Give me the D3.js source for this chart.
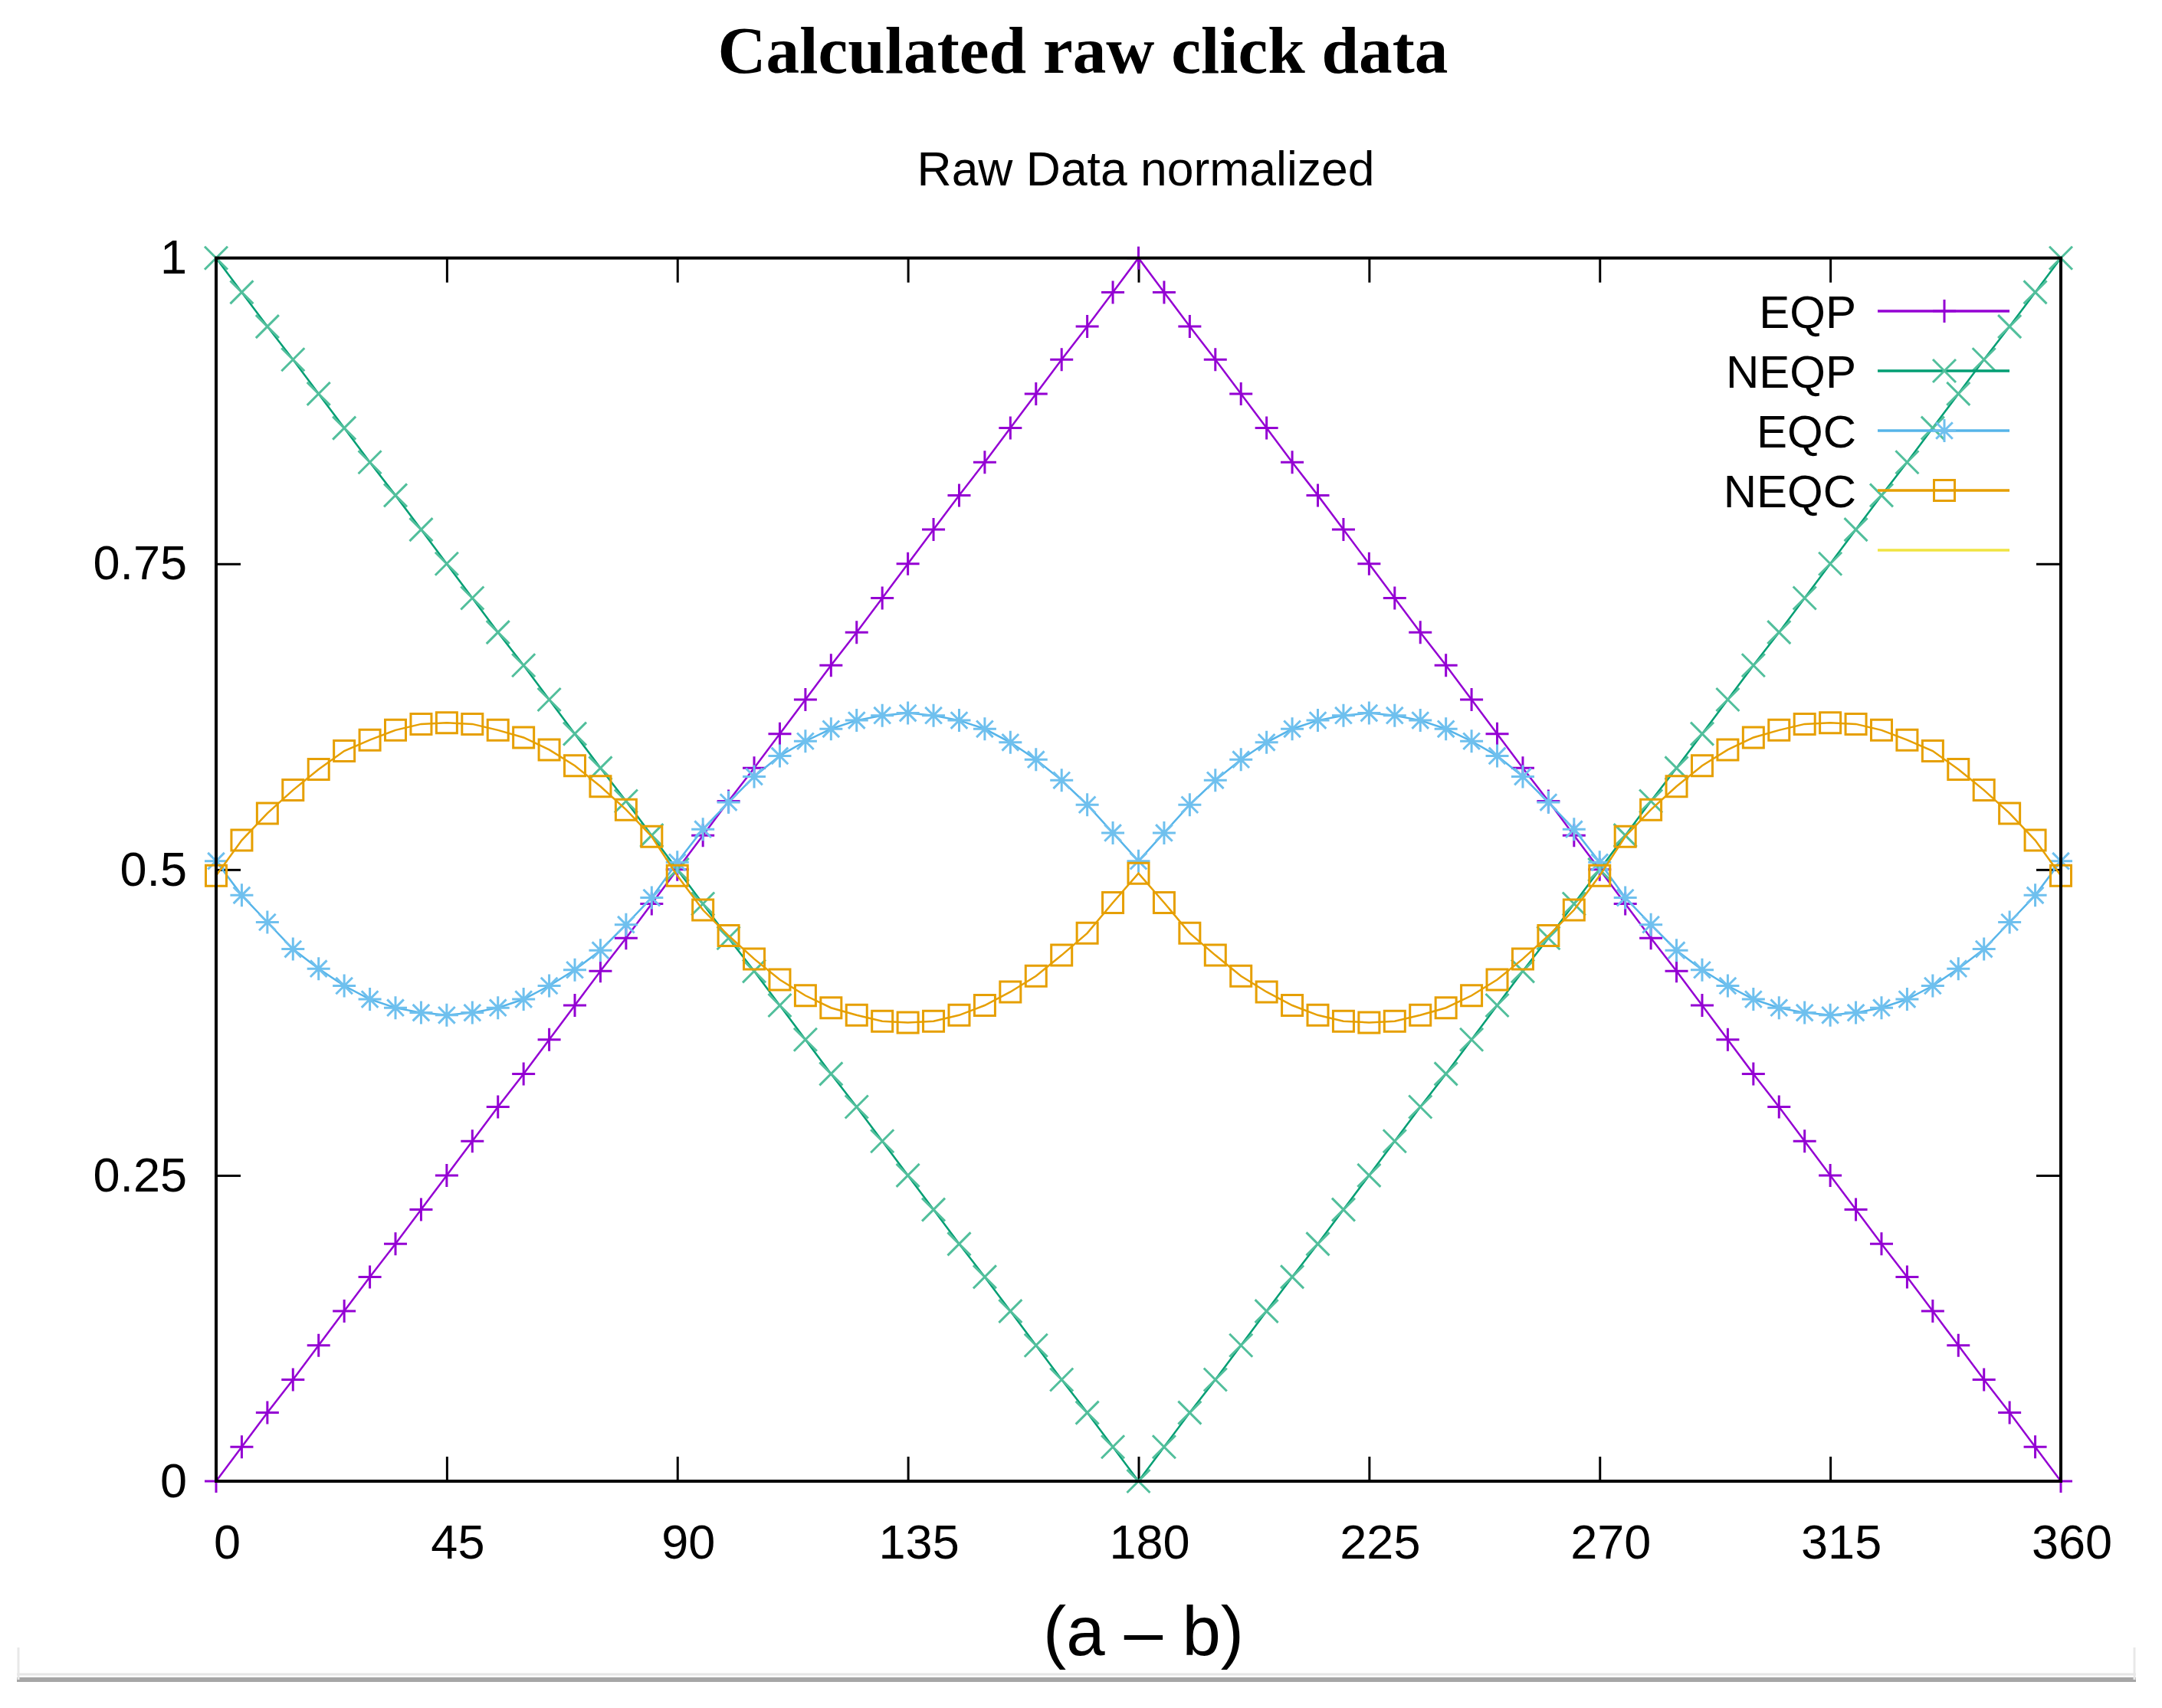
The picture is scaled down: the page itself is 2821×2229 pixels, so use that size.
<!DOCTYPE html>
<html>
<head>
<meta charset="utf-8">
<script src="https://cdn.jsdelivr.net/npm/d3@7"></script>
<style>
  html, body { margin: 0; padding: 0; background: #ffffff; }
  svg { display: block; }
</style>
</head>
<body>
<script>
// ---------------- data ----------------
const angles = [0,5,10,15,20,25,30,35,40,45,50,55,60,65,70,75,80,85,90,95,100,105,110,115,120,125,130,135,140,145,150,155,160,165,170,175,180,
  185,190,195,200,205,210,215,220,225,230,235,240,245,250,255,260,265,270,275,280,285,290,295,300,305,310,315,320,325,330,335,340,345,350,355,360];

const eqp = [0.000,0.028,0.056,0.083,0.111,0.139,0.167,0.194,0.222,0.250,0.278,0.306,0.333,0.361,0.389,0.417,0.444,0.472,0.500,0.528,0.556,0.583,0.611,0.639,0.667,0.694,0.722,0.750,0.778,0.806,0.833,0.861,0.889,0.917,0.944,0.972,1.000,
  0.972,0.944,0.917,0.889,0.861,0.833,0.806,0.778,0.750,0.722,0.694,0.667,0.639,0.611,0.583,0.556,0.528,0.500,0.472,0.444,0.417,0.389,0.361,0.333,0.306,0.278,0.250,0.222,0.194,0.167,0.139,0.111,0.083,0.056,0.028,0.000];

const neqp = [1.000,0.972,0.944,0.917,0.889,0.861,0.833,0.806,0.778,0.750,0.722,0.694,0.667,0.639,0.611,0.583,0.556,0.528,0.500,0.472,0.444,0.417,0.389,0.361,0.333,0.306,0.278,0.250,0.222,0.194,0.167,0.139,0.111,0.083,0.056,0.028,0.000,
  0.028,0.056,0.083,0.111,0.139,0.167,0.194,0.222,0.250,0.278,0.306,0.333,0.361,0.389,0.417,0.444,0.472,0.500,0.528,0.556,0.583,0.611,0.639,0.667,0.694,0.722,0.750,0.778,0.806,0.833,0.861,0.889,0.917,0.944,0.972,1.000];

const eqc = [0.507,0.479,0.457,0.435,0.419,0.405,0.394,0.387,0.383,0.381,0.383,0.387,0.394,0.405,0.418,0.434,0.455,0.477,0.506,0.533,0.555,0.576,0.593,0.605,0.615,0.622,0.626,0.628,0.626,0.622,0.615,0.604,0.590,0.573,0.553,0.530,0.507,
  0.530,0.553,0.573,0.590,0.604,0.615,0.622,0.626,0.628,0.626,0.622,0.615,0.605,0.593,0.576,0.555,0.533,0.506,0.477,0.455,0.434,0.418,0.405,0.394,0.387,0.383,0.381,0.383,0.387,0.394,0.405,0.419,0.435,0.457,0.479,0.507];

const neqc = [0.495,0.524,0.546,0.565,0.582,0.597,0.606,0.614,0.619,0.620,0.619,0.614,0.608,0.598,0.585,0.568,0.549,0.527,0.495,0.467,0.446,0.427,0.410,0.397,0.387,0.381,0.376,0.375,0.376,0.381,0.389,0.400,0.413,0.430,0.448,0.473,0.497,
  0.473,0.448,0.430,0.413,0.400,0.389,0.381,0.376,0.375,0.376,0.381,0.387,0.397,0.410,0.427,0.446,0.467,0.495,0.527,0.549,0.568,0.585,0.598,0.608,0.614,0.619,0.620,0.619,0.614,0.606,0.597,0.582,0.565,0.546,0.524,0.495];

const fifth = []; // legend-only entry (yellow, no title)

const seriesNames = ["EQP", "NEQP", "EQC", "NEQC", ""];
const seriesColors = ["#9400d3", "#009e73", "#56b4e9", "#e69f00", "#f0e442"];
const markerColors = ["#9400d3", "#52bf9c", "#6fc0ee", "#e69f00", "#f0e442"];
const seriesMarkers = ["plus", "times", "star", "square", "none"];
const seriesValues = [eqp, neqp, eqc, neqc, fifth];

const xTicks = [0, 45, 90, 135, 180, 225, 270, 315, 360];
const yTicks = [0, 0.25, 0.5, 0.75, 1];
const yTickLabels = ["0", "0.25", "0.5", "0.75", "1"];

const titleText = "Calculated raw click data";
const subtitleText = "Raw Data normalized";
const xLabelText = "(a \u2013 b)";

// ---------------- layout ----------------
const W = 2821, H = 2229;
const L = 282, R = 2689, T = 336.7, B = 1933;
const sansFont = "'Liberation Sans', Arial, sans-serif";

const svg = d3.select("body").append("svg")
  .attr("width", W).attr("height", H).attr("viewBox", `0 0 ${W} ${H}`);
svg.append("rect").attr("width", W).attr("height", H).attr("fill", "#ffffff");

const x = d3.scaleLinear().domain([0, 360]).range([L, R]);
const y = d3.scaleLinear().domain([0, 1]).range([B, T]);

function fitWidth(sel, target) {
  const fs = parseFloat(sel.attr("font-size"));
  const w = sel.node().getComputedTextLength();
  if (w > 0) sel.attr("font-size", fs * target / w);
}

// titles
const title = svg.append("text")
  .attr("x", 1413).attr("y", 95)
  .attr("text-anchor", "middle")
  .attr("font-family", "'Liberation Serif', 'DejaVu Serif', serif")
  .attr("font-weight", "bold")
  .attr("font-size", 82)
  .attr("fill", "#000")
  .text(titleText);
fitWidth(title, 953);

const subtitle = svg.append("text")
  .attr("x", 1495).attr("y", 242)
  .attr("text-anchor", "middle")
  .attr("font-family", sansFont)
  .attr("font-size", 64)
  .attr("fill", "#000")
  .text(subtitleText);
fitWidth(subtitle, 597);

// axes
const tickLen = 32;
const gx = svg.append("g").attr("transform", `translate(0,${B})`)
  .call(d3.axisBottom(x).tickValues(xTicks).tickSizeInner(-tickLen).tickSizeOuter(0).tickPadding(56).tickFormat(d3.format("d")));
const gxTop = svg.append("g").attr("transform", `translate(0,${T})`)
  .call(d3.axisTop(x).tickValues(xTicks).tickSizeInner(-tickLen).tickSizeOuter(0).tickFormat(""));
const gy = svg.append("g").attr("transform", `translate(${L},0)`)
  .call(d3.axisLeft(y).tickValues(yTicks).tickSizeInner(-tickLen).tickSizeOuter(0).tickPadding(38)
    .tickFormat((d, i) => yTickLabels[i]));
const gyRight = svg.append("g").attr("transform", `translate(${R},0)`)
  .call(d3.axisRight(y).tickValues(yTicks).tickSizeInner(-tickLen).tickSizeOuter(0).tickFormat(""));

[gx, gxTop, gy, gyRight].forEach(g => {
  g.select(".domain").remove();
  g.selectAll(".tick line").attr("stroke", "#000").attr("stroke-width", 3);
  g.selectAll(".tick text").attr("font-family", sansFont).attr("font-size", 63).attr("fill", "#000");
});
gx.selectAll(".tick text").attr("dx", 14);
[gx, gxTop].forEach(g => g.selectAll(".tick line").filter(d => d === 0 || d === 360).remove());
[gy, gyRight].forEach(g => g.selectAll(".tick line").filter(d => d === 0 || d === 1).remove());

// x label
const xlab = svg.append("text")
  .attr("x", 1492).attr("y", 2160)
  .attr("text-anchor", "middle")
  .attr("font-family", sansFont)
  .attr("font-size", 80)
  .attr("fill", "#000")
  .text(xLabelText);
fitWidth(xlab, 262);

// marker shapes
function markerPath(type, r) {
  switch (type) {
    case "plus": return `M${-r},0H${r}M0,${-r}V${r}`;
    case "times": return `M${-r},${-r}L${r},${r}M${-r},${r}L${r},${-r}`;
    case "star": return `M${-r},0H${r}M0,${-r}V${r}M${-r*0.72},${-r*0.72}L${r*0.72},${r*0.72}M${-r*0.72},${r*0.72}L${r*0.72},${-r*0.72}`;
    case "square": return `M${-r},${-r}H${r}V${r}H${-r}Z`;
    default: return "";
  }
}
const markerR = { plus: 15, times: 15, star: 15, square: 13.5, none: 0 };

// data series
const plot = svg.append("g");
const line = d3.line().x(d => x(d[0])).y(d => y(d[1]));
seriesValues.forEach((vals, si) => {
  if (!vals.length) return;
  const pts = vals.map((v, i) => [angles[i], v]);
  const g = plot.append("g");
  g.append("path").datum(pts)
    .attr("d", line)
    .attr("fill", "none")
    .attr("stroke", seriesColors[si])
    .attr("stroke-width", 2.5);
  g.selectAll("path.mk").data(pts).join("path")
    .attr("class", "mk")
    .attr("transform", d => `translate(${x(d[0])},${y(d[1])})`)
    .attr("d", markerPath(seriesMarkers[si], markerR[seriesMarkers[si]]))
    .attr("fill", "none")
    .attr("stroke", markerColors[si])
    .attr("stroke-width", 3);
});

// frame
svg.append("rect")
  .attr("x", L).attr("y", T).attr("width", R - L).attr("height", B - T)
  .attr("fill", "none").attr("stroke", "#000").attr("stroke-width", 4);

// legend
const legX0 = 2450, legX1 = 2622, legTextX = 2422, legY0 = 406, legDy = 78;
const leg = svg.append("g");
seriesNames.forEach((name, i) => {
  const yy = legY0 + i * legDy;
  const row = leg.append("g");
  row.append("text")
    .attr("x", legTextX).attr("y", yy)
    .attr("dy", "0.36em")
    .attr("text-anchor", "end")
    .attr("font-family", sansFont)
    .attr("font-size", 60)
    .attr("fill", "#000")
    .text(name);
  row.append("line")
    .attr("x1", legX0).attr("x2", legX1).attr("y1", yy).attr("y2", yy)
    .attr("stroke", seriesColors[i]).attr("stroke-width", 3.5);
  if (seriesMarkers[i] !== "none") {
    row.append("path")
      .attr("transform", `translate(${(legX0 + legX1) / 2 + 1},${yy})`)
      .attr("d", markerPath(seriesMarkers[i], markerR[seriesMarkers[i]]))
      .attr("fill", "none")
      .attr("stroke", markerColors[i])
      .attr("stroke-width", 3);
  }
});

// bottom window-like border
const border = svg.append("g");
border.append("line").attr("x1", 22).attr("x2", 2787).attr("y1", 2185).attr("y2", 2185)
  .attr("stroke", "#e6e6e6").attr("stroke-width", 3);
border.append("line").attr("x1", 22).attr("x2", 2787).attr("y1", 2192).attr("y2", 2192)
  .attr("stroke", "#a6a6a6").attr("stroke-width", 6);
border.append("line").attr("x1", 24).attr("x2", 24).attr("y1", 2150).attr("y2", 2192)
  .attr("stroke", "#e8e8e8").attr("stroke-width", 3);
border.append("line").attr("x1", 2785).attr("x2", 2785).attr("y1", 2150).attr("y2", 2192)
  .attr("stroke", "#e8e8e8").attr("stroke-width", 3);
</script>
</body>
</html>
